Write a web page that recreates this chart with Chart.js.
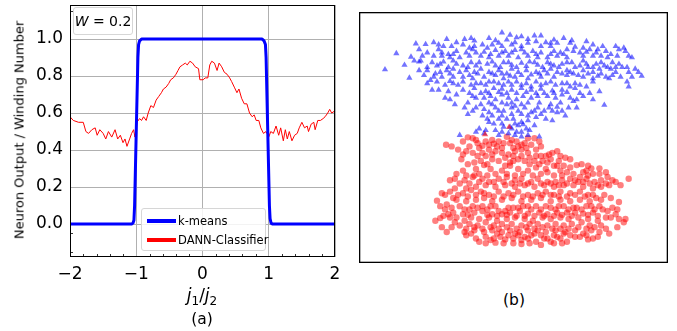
<!DOCTYPE html>
<html><head><meta charset="utf-8">
<script src="https://cdn.jsdelivr.net/npm/chart.js@4.4.0/dist/chart.umd.min.js"></script>
<style>
body{margin:0;background:#fff;font-family:"DejaVu Sans",sans-serif;color:#000;}
#wrap{position:relative;width:677px;height:331px;overflow:hidden;}
.abs{position:absolute;white-space:nowrap;}
#leftBox{left:0;top:0;width:345px;height:331px;}
#rightBox{left:355px;top:8px;width:317px;height:259px;}
#ylab{left:19px;top:130px;transform:translate(-50%,-50%) rotate(-90deg);font-size:13px;}
#xlab{left:202px;top:296px;transform:translate(-50%,-50%);font-size:17px;}
#xlab sub{font-size:12px;vertical-align:-4px;font-style:normal;}
#capA{left:202px;top:319px;transform:translate(-50%,-50%);font-size:15.5px;}
#capB{left:514px;top:300px;transform:translate(-50%,-50%);font-size:15.5px;}
#wbox{left:73px;top:7px;width:58px;height:26px;border:1px solid #d6d6d6;border-radius:3px;background:rgba(255,255,255,0.85);font-size:14px;line-height:26px;text-align:center;}
#legend{left:141px;top:208px;width:123px;height:41px;border:1px solid #d6d6d6;border-radius:3px;background:rgba(255,255,255,0.85);font-size:11.5px;}
.sw{position:absolute;left:5px;width:29px;height:3.5px;}
.lt{position:absolute;left:36px;transform:translateY(-50%);}
</style></head>
<body>
<div id="wrap">
  <div id="leftBox" class="abs"><canvas id="ca"></canvas></div>
  <div id="rightBox" class="abs"><canvas id="cb"></canvas></div>
  <div id="ylab" class="abs">Neuron Output / Winding Number</div>
  <div id="xlab" class="abs"><i>j</i><sub>1</sub>/<i>j</i><sub>2</sub></div>
  <div id="capA" class="abs">(a)</div>
  <div id="capB" class="abs">(b)</div>
  <div id="wbox" class="abs"><i>W</i> = 0.2</div>
  <div id="legend" class="abs">
    <div class="sw" style="top:10px;background:#0000ff"></div><div class="lt" style="top:12px">k-means</div>
    <div class="sw" style="top:29px;background:#ff0000"></div><div class="lt" style="top:31px">DANN-Classifier</div>
  </div>
</div>
<script>
// ---- Panel (a) data ----
const xTickValues = [-2, -1, 0, 1, 2];
const yTickValues = [0, 0.2, 0.4, 0.6, 0.8, 1.0];
const xMinorTicks = [-1.8,-1.6,-1.4,-1.2,-0.8,-0.6,-0.4,-0.2,0.2,0.4,0.6,0.8,1.2,1.4,1.6,1.8];
const yMinorTicks = [-0.15,-0.05,1.15];

const kmeansX = [-2, -1.07, -1.05, -1.035, -1.025, -1.0, -0.975, -0.965, -0.95, -0.92, 0.9, 0.93, 0.95, 0.96, 0.985, 1.01, 1.02, 1.035, 1.06, 2];
const kmeansY = [0, 0, 0.005, 0.02, 0.1, 0.5, 0.9, 0.97, 0.99, 1, 1, 0.99, 0.97, 0.9, 0.5, 0.1, 0.03, 0.005, 0, 0];

const dannX = [-2.00,-1.95,-1.87,-1.80,-1.76,-1.72,-1.67,-1.62,-1.59,-1.55,-1.50,-1.46,-1.42,-1.37,-1.32,-1.28,-1.24,-1.20,-1.17,-1.14,-1.10,-1.07,-1.04,-1.02,-0.99,-0.95,-0.92,-0.89,-0.85,-0.82,-0.78,-0.74,-0.70,-0.66,-0.62,-0.59,-0.55,-0.51,-0.48,-0.44,-0.40,-0.37,-0.34,-0.30,-0.26,-0.23,-0.19,-0.15,-0.11,-0.06,-0.04,0.01,0.04,0.08,0.11,0.14,0.18,0.22,0.25,0.29,0.33,0.37,0.41,0.44,0.48,0.52,0.55,0.59,0.63,0.67,0.71,0.75,0.78,0.81,0.85,0.88,0.92,0.96,1.00,1.03,1.07,1.11,1.15,1.18,1.22,1.25,1.28,1.31,1.35,1.39,1.43,1.46,1.50,1.54,1.58,1.60,1.64,1.68,1.70,1.74,1.78,1.82,1.85,1.89,1.92,1.95,1.99];
const dannY = [0.58,0.56,0.55,0.55,0.50,0.49,0.51,0.52,0.48,0.51,0.49,0.46,0.50,0.47,0.51,0.46,0.48,0.44,0.46,0.42,0.46,0.49,0.51,0.47,0.55,0.57,0.56,0.58,0.56,0.60,0.64,0.63,0.67,0.69,0.71,0.73,0.74,0.76,0.78,0.79,0.81,0.83,0.85,0.86,0.87,0.86,0.88,0.87,0.85,0.84,0.78,0.78,0.79,0.79,0.86,0.88,0.87,0.83,0.87,0.85,0.82,0.81,0.79,0.77,0.74,0.71,0.73,0.68,0.65,0.65,0.60,0.58,0.59,0.56,0.56,0.52,0.49,0.50,0.47,0.50,0.49,0.53,0.48,0.52,0.45,0.51,0.46,0.50,0.45,0.48,0.49,0.52,0.55,0.52,0.53,0.50,0.54,0.55,0.51,0.56,0.56,0.57,0.58,0.60,0.62,0.60,0.61];

// ---- Panel (b) data (embedding coordinates) ----
const blueTriangles = [
[440,88],[400,105],[345,105],[270,108],[500,100],[540,97],[560,97],[630,105],[485,103],[355,113],[420,112],[455,110],
[175,122],[205,124],[230,118],[300,118],[260,130],[320,125],[380,125],[410,125],[470,125],[520,120],[590,120],[610,120],[650,120],[700,115],[690,135],[750,130],[790,130],[815,135],[720,125],[560,130],[545,115],[590,130],[440,130],[500,130],[355,130],[395,135],[285,130],[185,140],[115,152],[245,140],[160,163],
[255,150],[275,155],[300,145],[330,150],[360,150],[385,148],[420,142],[450,145],[480,142],[510,150],[535,145],[560,150],[600,145],[620,150],[640,140],[660,145],[700,148],[730,150],[760,145],[775,155],[820,145],[840,165],[745,160],[720,160],[690,160],[640,165],[610,160],[580,165],[550,165],[520,160],[490,165],[460,160],[430,160],[400,165],[375,160],[340,160],[310,165],[280,165],[255,160],[195,160],[190,175],
[140,188],[185,178],[210,195],[225,180],[240,190],[260,178],[275,195],[300,185],[320,190],[345,180],[370,180],[395,185],[420,190],[445,180],[470,188],[500,182],[525,178],[550,188],[580,180],[600,190],[625,185],[655,180],[680,190],[700,185],[730,185],[755,190],[780,180],[800,185],[810,195],[775,200],[740,200],[705,195],
[80,202],[155,228],[185,205],[210,205],[235,215],[270,205],[290,200],[310,210],[330,205],[355,210],[375,200],[400,210],[430,205],[455,215],[470,200],[490,210],[515,205],[545,210],[570,205],[590,200],[610,210],[640,205],[660,215],[690,205],[720,210],[745,215],[760,225],[790,210],[830,210],[860,210],[870,222],[840,225],[770,230],[720,230],[690,225],[640,220],[600,225],[560,225],[520,230],[480,225],[445,230],[420,220],[385,225],[350,230],[320,225],[290,225],[255,225],[230,225],
[210,245],[240,240],[265,250],[290,245],[320,240],[345,250],[375,245],[400,240],[430,245],[460,240],[485,240],[515,245],[545,240],[575,245],[605,250],[625,245],[650,255],[680,250],[720,240],[740,270],[830,255],[225,265],[245,265],[320,265],[355,260],[390,270],[415,260],[440,262],[470,265],[500,260],[530,265],[560,262],[595,268],[625,265],[665,260],
[265,290],[280,295],[295,310],[335,305],[360,290],[385,290],[405,285],[420,295],[440,280],[460,290],[485,295],[505,285],[530,290],[550,285],[580,285],[605,290],[625,280],[650,290],[670,295],[690,285],[720,295],[755,312],[350,285],[470,305],[500,310],[520,305],[555,305],[590,310],[620,305],[660,300],[400,305],[440,305],[610,318],
[335,340],[360,320],[385,325],[400,335],[420,320],[445,330],[470,320],[490,330],[510,320],[530,335],[550,320],[570,330],[595,330],[625,330],[645,320],[670,320],[380,345],[410,345],[440,345],[470,340],[520,345],[545,350],[575,355],[595,360],
[395,355],[400,365],[430,355],[455,355],[475,355],[500,365],[520,360],[480,370],[505,372],[440,370],[370,385],[390,390],[420,390],[470,385],[485,395],[500,395],[515,385],[540,375],[360,395],[385,400],[310,405],[480,405],[520,405],[555,410],[440,395],[465,380],
[325,108],[465,95],[520,108],[600,110],[655,112],[245,125],[340,135],[430,120],[480,118],[575,118],[665,132],[735,140],[800,140],[210,150],[230,160],[290,155],[350,140],[405,155],[440,150],[470,150],[500,140],[545,155],[590,155],[630,155],[680,150],[710,140],[765,165],[795,160],[830,160],[170,175],[250,185],[290,175],[335,195],[360,190],[410,178],[435,195],[460,180],[485,195],[515,192],[540,180],[565,195],[590,185],[615,195],[640,180],[665,195],[690,175],[720,195],[745,180],[765,195],[790,195],[825,195],[850,200],
[200,220],[250,210],[280,215],[340,220],[365,215],[410,215],[440,215],[465,222],[500,220],[530,218],[555,215],[580,215],[625,215],[650,210],[675,220],[705,215],[735,222],[780,220],[805,225],[825,240],[220,235],[280,238],[305,250],[360,245],[390,250],[415,240],[445,250],[470,250],[500,250],[530,255],[560,250],[590,240],[640,245],[665,245],[700,255],
[275,270],[300,280],[340,275],[375,275],[400,275],[430,272],[455,275],[485,275],[515,272],[545,275],[570,275],[600,275],[640,272],[680,275],[710,275],[325,320],[350,330],[375,310],[410,310],[430,330],[455,310],[480,315],[500,340],[540,330],[560,340],[585,320],[610,335],[635,345],[415,370],[445,380],[490,375],[525,390],[460,400],[500,410],[430,405]
];
const redTriangles = [[388,403],[462,380]];
const redCircles = [
[268,435],[320,425],[335,412],[350,415],[365,430],[390,425],[410,420],[430,425],[455,410],[470,420],[490,440],[520,415],[540,415],[555,425],[340,440],[370,445],[400,435],[425,440],[445,430],[475,445],[500,435],[530,435],
[330,455],[350,460],[380,460],[400,450],[420,455],[440,460],[460,465],[480,455],[500,450],[520,460],[575,470],[595,460],[610,455],[635,475],[545,470],[565,485],[590,480],[615,485],[315,480],[355,490],[375,485],[410,480],[430,485],[465,490],[490,480],[510,485],[540,485],
[670,498],[685,495],[715,508],[700,515],[740,508],[320,515],[360,510],[385,498],[405,510],[440,515],[465,500],[490,510],[520,515],[545,505],[575,510],[600,500],[620,515],[640,520],[660,525],[690,520],[720,525],[560,525],[580,520],[420,525],[355,530],[300,525],
[280,545],[295,540],[325,545],[350,535],[380,540],[400,550],[430,540],[455,535],[480,545],[500,540],[530,550],[550,540],[580,550],[605,550],[625,545],[650,540],[675,550],[700,540],[725,550],[745,545],[765,535],[790,550],[830,540],[770,560],[745,565],[720,570],[690,565],[660,560],[630,560],[600,565],[570,560],[540,565],[510,560],[480,565],[450,560],[420,565],[390,560],[360,565],[330,570],[295,570],
[240,608],[265,590],[290,600],[320,585],[345,575],[375,580],[400,590],[430,580],[460,585],[490,580],[520,590],[550,585],[575,580],[600,590],[620,580],[650,585],[680,580],[705,590],[730,600],[755,590],[800,612],[270,620],[300,605],[330,610],[360,605],[385,600],[410,610],[440,605],[470,600],[500,610],[530,605],[560,600],[590,610],[620,605],[650,610],[680,605],[710,610],
[265,635],[275,650],[310,625],[340,635],[365,630],[395,635],[420,625],[450,640],[475,630],[505,625],[530,635],[560,635],[590,630],[615,625],[645,635],[670,630],[700,625],[725,635],[750,635],[780,630],[290,645],[320,650],[355,645],[380,640],[410,650],[440,650],[465,645],[495,640],[520,648],[555,645],[580,650],[610,645],[640,645],[665,645],[690,648],[720,645],
[235,670],[250,662],[280,660],[295,675],[325,670],[345,660],[370,665],[400,660],[425,670],[455,665],[480,660],[510,665],[535,670],[565,660],[590,665],[620,660],[645,665],[675,660],[705,665],[735,670],[775,660],[800,665],[815,675],[310,685],[340,680],[365,685],[390,675],[415,685],[440,680],[470,680],[500,685],[525,680],[550,680],[580,685],[605,680],[630,685],[655,680],[685,675],[710,685],[745,685],[795,690],
[270,705],[325,705],[355,700],[385,705],[410,700],[440,705],[465,700],[495,705],[520,700],[550,700],[575,705],[605,700],[635,705],[665,700],[690,710],[715,700],[740,705],[770,710],[330,715],[360,725],[370,735],[405,730],[435,720],[445,740],[475,725],[475,740],[500,730],[520,725],[545,735],[570,725],[590,735],[620,725],[640,735],[665,720],[700,715],[720,725],[425,710],[460,715],[490,715],[530,715],[560,715],[600,715],[650,715],
[285,440],[305,450],[360,420],[380,438],[415,432],[440,445],[465,430],[485,425],[510,430],[515,445],[560,440],[545,450],[320,465],[365,470],[390,470],[410,465],[450,475],[475,470],[500,470],[525,475],[560,470],[585,465],[620,470],[650,480],[335,495],[395,495],[450,500],[475,485],[525,495],[555,495],[580,490],[610,500],[630,500],[650,505],[705,500],
[330,530],[370,525],[395,530],[455,525],[480,530],[505,525],[535,530],[600,530],[625,530],[680,535],[705,530],[740,525],[760,520],[310,555],[340,555],[370,550],[415,550],[445,550],[470,555],[495,555],[520,555],[560,555],[590,555],[615,560],[640,555],[665,545],[690,550],[710,555],[735,560],[760,555],[780,545],[805,560],
[255,585],[280,580],[305,590],[335,595],[360,590],[385,585],[415,595],[445,595],[475,590],[505,595],[535,595],[565,590],[590,590],[615,595],[640,595],[665,590],[695,595],[720,590],[745,605],[775,600],[250,625],[285,630],[325,635],[350,625],[380,625],[405,625],[430,640],[460,630],[490,630],[520,625],[545,625],[575,625],[605,635],[630,625],[660,630],[685,635],[715,625],[740,625],[765,640],[795,635],
[260,655],[300,660],[335,652],[395,652],[425,655],[455,652],[485,655],[510,655],[540,655],[570,655],[600,655],[625,652],[655,655],[705,652],[735,655],[760,660],[790,650],[820,665],[255,690],[285,690],[330,695],[355,690],[380,695],[405,690],[430,695],[455,690],[485,695],[515,690],[540,695],[565,690],[595,695],[620,695],[645,695],[675,690],[700,695],[725,690],[760,695],
[345,710],[390,720],[415,725],[450,728],[480,710],[510,720],[540,710],[580,725],[610,720],[630,710],[680,720],[705,728],[735,720],[390,740],[420,738],[500,742],[525,740],[560,745],[600,740],[625,740]
];

Chart.defaults.font.family = '"DejaVu Sans", sans-serif';
Chart.defaults.color = '#000';

const framePlugin = {
  id: 'frame',
  afterDraw(chart, args, opts) {
    const {ctx, chartArea: a} = chart;
    const w = opts.width || 1;
    ctx.save();
    ctx.strokeStyle = '#000';
    ctx.lineWidth = w;
    ctx.strokeRect(a.left + w / 2, a.top + w / 2, a.right - a.left - w, a.bottom - a.top - w);
    if (opts.minor) {
      const xs = chart.scales.x, ys = chart.scales.y;
      ctx.lineWidth = 0.8;
      ctx.beginPath();
      xMinorTicks.forEach(v => { const px = Math.round(xs.getPixelForValue(v)) + 0.5; ctx.moveTo(px, a.bottom); ctx.lineTo(px, a.bottom - 3); });
      yMinorTicks.forEach(v => { const py = Math.round(ys.getPixelForValue(v)) + 0.5; ctx.moveTo(a.left, py); ctx.lineTo(a.left + 3, py); });
      ctx.stroke();
    }
    ctx.restore();
  }
};

const noPad = s => { s.paddingTop = 0; s.paddingBottom = 0; s.paddingLeft = 0; s.paddingRight = 0; };

new Chart(document.getElementById('ca'), {
  type: 'line',
  data: {
    datasets: [
      { label: 'k-means', data: kmeansX.map((x, i) => ({x, y: kmeansY[i]})), borderColor: '#0000ff', borderWidth: 3, pointRadius: 0, tension: 0, borderJoinStyle: 'round' },
      { label: 'DANN-Classifier', data: dannX.map((x, i) => ({x, y: dannY[i]})), borderColor: '#ff0000', borderWidth: 1, pointRadius: 0, tension: 0 }
    ]
  },
  options: {
    responsive: true, maintainAspectRatio: false, animation: false, events: [],
    layout: { padding: { left: 0, right: 10, top: 5, bottom: 0 } },
    plugins: { legend: { display: false }, tooltip: { enabled: false }, frame: { width: 1, minor: true } },
    scales: {
      x: {
        type: 'linear', min: -2, max: 2,
        afterBuildTicks: s => { s.ticks = xTickValues.map(v => ({value: v})); },
        afterFit: s => { s.height = 74; noPad(s); },
        ticks: { font: { size: 17 }, padding: 7, maxRotation: 0, callback: v => String(v).replace('-', '\u2212') },
        grid: { color: '#b0b0b0', lineWidth: 1, drawTicks: false },
        border: { display: false }
      },
      y: {
        type: 'linear', min: -0.178, max: 1.184,
        afterBuildTicks: s => { s.ticks = yTickValues.map(v => ({value: v})); },
        afterFit: s => { s.width = 70; noPad(s); },
        ticks: { font: { size: 17 }, padding: 7, callback: v => Number(v).toFixed(1) },
        grid: { color: '#b0b0b0', lineWidth: 1, drawTicks: false },
        border: { display: false }
      }
    }
  },
  plugins: [framePlugin]
});

new Chart(document.getElementById('cb'), {
  type: 'scatter',
  data: {
    datasets: [
      { data: redTriangles.map(p => ({x: p[0], y: p[1]})), pointStyle: 'triangle', pointRadius: 3.6, backgroundColor: 'rgba(255,0,0,0.6)', borderWidth: 0 },
      { data: blueTriangles.map(p => ({x: p[0], y: p[1]})), pointStyle: 'triangle', pointRadius: 3.6, backgroundColor: 'rgba(0,0,255,0.55)', borderWidth: 0 },
      { data: redCircles.map(p => ({x: p[0], y: p[1]})), pointStyle: 'circle', pointRadius: 3.2, backgroundColor: 'rgba(255,0,0,0.5)', borderWidth: 0 }
    ]
  },
  options: {
    responsive: true, maintainAspectRatio: false, animation: false, events: [],
    layout: { padding: 0 },
    plugins: { legend: { display: false }, tooltip: { enabled: false }, frame: { width: 1.3 } },
    scales: {
      x: { display: false, min: 0, max: 951 },
      y: { display: false, min: 24, max: 801, reverse: true }
    }
  },
  plugins: [framePlugin]
});
</script>
</body></html>
